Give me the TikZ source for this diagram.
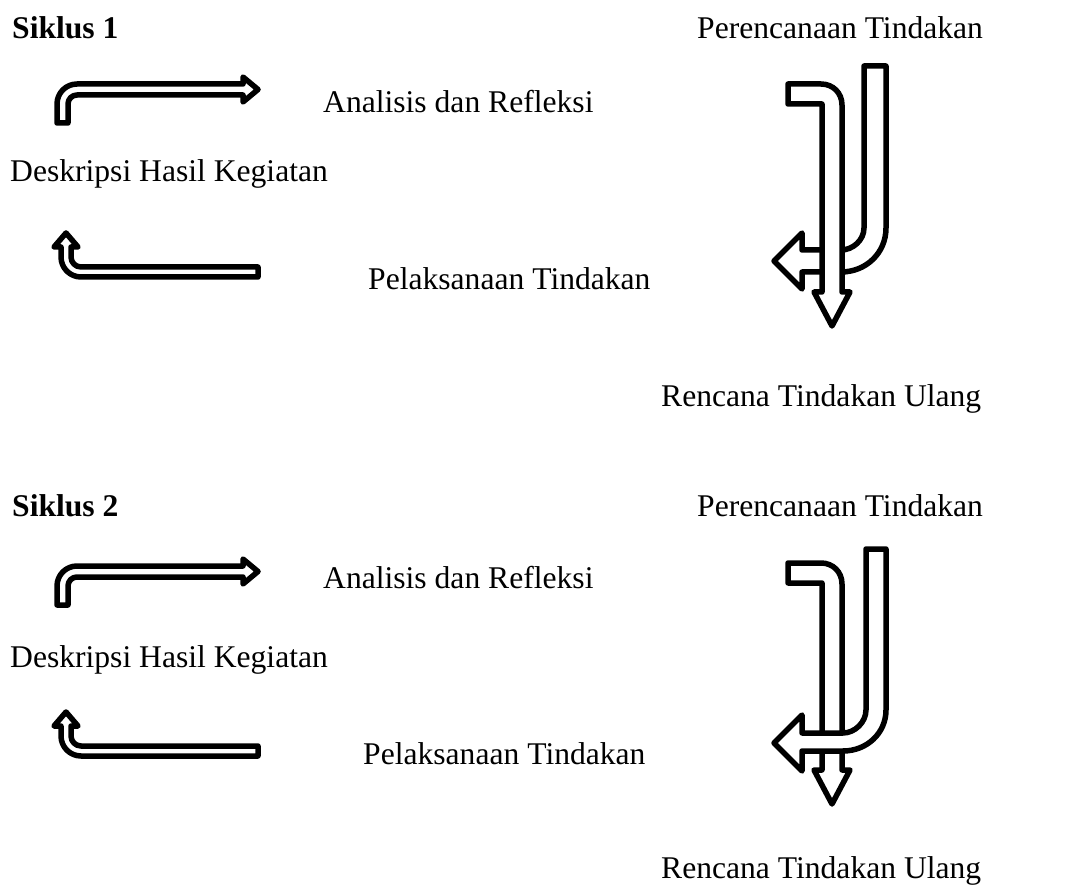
\documentclass[tikz,border=0pt]{standalone}
\usepackage{fontspec}
\setmainfont{Liberation Serif}
\begin{document}
\begin{tikzpicture}[x=1pt,y=-1pt,
  txt/.style={anchor=base west, inner sep=0pt, font=\fontsize{31.6}{38}\selectfont},
  heading/.style={txt, font=\fontsize{31.6}{38}\selectfont\bfseries},
  band/.style={draw=black, fill=white, line width=5.5pt, line join=round}]
\useasboundingbox (0,0) rectangle (1069,890);

% ---------------- Siklus 1 ----------------
\node[heading] (s1) at (12,39) {Siklus 1};
\node[txt] (s1plan) at (697,39) {Perencanaan Tindakan};
\node[txt] (s1anal) at (323,113) {Analisis dan Refleksi};
\node[txt] (s1desk) at (10,182) {Deskripsi Hasil Kegiatan};
\node[txt] (s1pel) at (368,290) {Pelaksanaan Tindakan};
\node[txt] (s1ren) at (661,407) {Rencana Tindakan Ulang};

% bent arrow pointing right
\draw[band] (57,123) -- (57,104) .. controls (57,93) and (66,84) .. (77,84)
  -- (243,84) -- (243,77) -- (258,89.5) -- (243,102) -- (243,95) -- (77,95)
  .. controls (72,95) and (68,99) .. (68,104) -- (68,123) -- cycle;
% bent arrow pointing up
\draw[band] (66,233) -- (78,247) -- (71,247) -- (71,257)
  .. controls (71,262.5) and (75.5,267) .. (81,267) -- (258,267) -- (258,277)
  -- (81,277) .. controls (70,277) and (61,268) .. (61,257) -- (61,247)
  -- (54,247) -- cycle;

% hook turning left
\draw[band] (864,66) -- (886,66) -- (886,228)
  .. controls (886,253) and (866,272) .. (841,272) -- (802,272) -- (802,289)
  -- (774,261) -- (802,233) -- (802,250) -- (841,250)
  .. controls (853,250) and (864,240) .. (864,228) -- cycle;
% hook turning down
\draw[band] (788,84) -- (821,84) .. controls (833,84) and (842,93) .. (842,105)
  -- (842,292) -- (850,292) -- (832,326) -- (814,292) -- (822,292)
  -- (822,104) -- (788,104) -- cycle;

% ---------------- Siklus 2 ----------------
\node[heading] (s2) at (12,517) {Siklus 2};
\node[txt] (s2plan) at (697,517) {Perencanaan Tindakan};
\node[txt] (s2anal) at (323,588) {Analisis dan Refleksi};
\node[txt] (s2desk) at (10,667) {Deskripsi Hasil Kegiatan};
\node[txt] (s2pel) at (363,764) {Pelaksanaan Tindakan};
\node[txt] (s2ren) at (661,878) {Rencana Tindakan Ulang};

\begin{scope}[shift={(0,482)}]
\draw[band] (57,123) -- (57,104) .. controls (57,93) and (66,84) .. (77,84)
  -- (243,84) -- (243,77) -- (258,89.5) -- (243,102) -- (243,95) -- (77,95)
  .. controls (72,95) and (68,99) .. (68,104) -- (68,123) -- cycle;
\end{scope}
\begin{scope}[shift={(0,479)}]
\draw[band] (66,233) -- (78,247) -- (71,247) -- (71,257)
  .. controls (71,262.5) and (75.5,267) .. (81,267) -- (258,267) -- (258,277)
  -- (81,277) .. controls (70,277) and (61,268) .. (61,257) -- (61,247)
  -- (54,247) -- cycle;
\end{scope}

% hook turning down (behind)
\draw[band] (788,563) -- (821,563) .. controls (833,563) and (842,572) .. (842,584)
  -- (842,770) -- (850,770) -- (832,804) -- (814,770) -- (822,770)
  -- (822,583) -- (788,583) -- cycle;
% hook turning left (in front)
\draw[band] (866,549) -- (886,549) -- (886,710)
  .. controls (886,733) and (867,751) .. (843,751) -- (802,751) -- (802,771)
  -- (774,743) -- (802,715) -- (802,733) -- (843,733)
  .. controls (855,733) and (866,722) .. (866,710) -- cycle;
\end{tikzpicture}
\end{document}
